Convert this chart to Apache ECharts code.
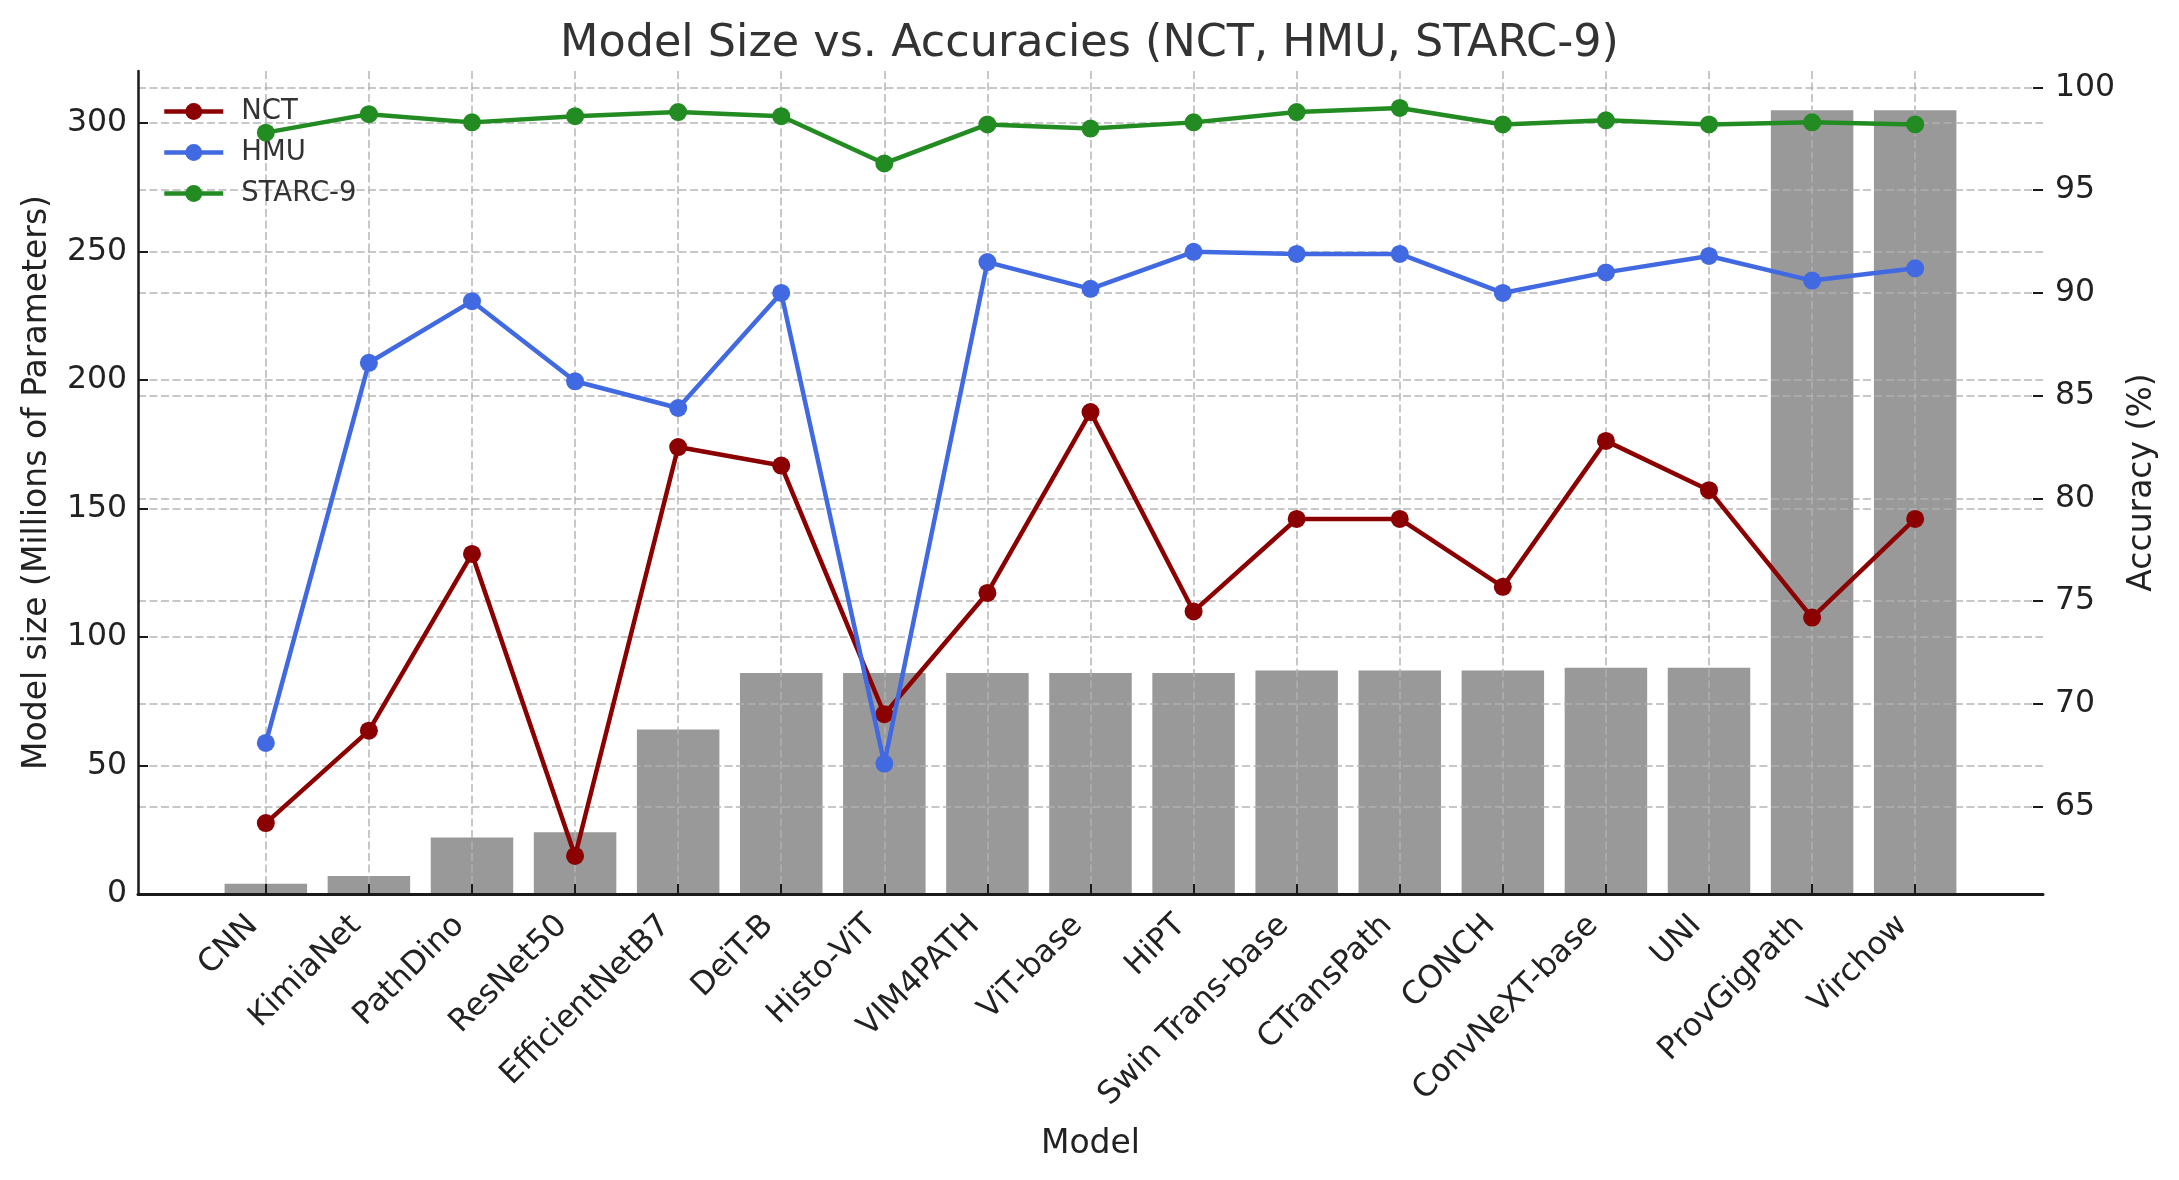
<!DOCTYPE html>
<html>
<head>
<meta charset="utf-8">
<script src="https://cdn.jsdelivr.net/npm/echarts@6/dist/echarts.min.js"></script>
<style>
html,body{margin:0;padding:0;background:#fff;}
#chart{width:2179px;height:1180px;}
</style>
</head>
<body>
<div id="chart"></div>
<script>
const categories = ["CNN","KimiaNet","PathDino","ResNet50","EfficientNetB7","DeiT-B","Histo-ViT","VIM4PATH","ViT-base","HiPT","Swin Trans-base","CTransPath","CONCH","ConvNeXT-base","UNI","ProvGigPath","Virchow"];
const modelSize = [4, 7, 22, 24, 64, 86, 86, 86, 86, 86, 87, 87, 87, 88, 88, 305, 305];
const nctAcc = [64.2, 68.7, 77.3, 62.6, 82.5, 81.6, 69.5, 75.4, 84.2, 74.5, 79.0, 79.0, 75.7, 82.8, 80.4, 74.2, 79.0];
const hmuAcc = [68.1, 86.6, 89.6, 85.7, 84.4, 90.0, 67.1, 91.5, 90.2, 92.0, 91.9, 91.9, 90.0, 91.0, 91.8, 90.6, 91.2];
const starcAcc = [97.8, 98.7, 98.3, 98.6, 98.8, 98.6, 96.3, 98.2, 98.0, 98.3, 98.8, 99.0, 98.2, 98.4, 98.2, 98.3, 98.2];
const sizeTicks = [0, 50, 100, 150, 200, 250, 300];
const accTicks = [65, 70, 75, 80, 85, 90, 95, 100];

const FONT = 'DejaVu Sans';
const idx = categories.map((c, i) => i);
const pair = arr => arr.map((v, i) => [i, v]);
const gridLine = {show: true, lineStyle: {color: 'rgba(176,176,176,0.7)', width: 2, type: [8, 3.5]}};

const chart = echarts.init(document.getElementById('chart'), null, {renderer: 'canvas'});
chart.setOption({
  animation: false,
  backgroundColor: '#ffffff',
  title: {
    text: 'Model Size vs. Accuracies (NCT, HMU, STARC-9)',
    left: 'center', top: 17,
    textStyle: {fontFamily: FONT, fontSize: 44.5, fontWeight: 'normal', color: '#333333'}
  },
  legend: {
    orient: 'vertical', left: 157, top: 91,
    itemWidth: 59, itemHeight: 21, itemGap: 10,
    lineStyle: {width: 4.5},
    textStyle: {fontFamily: FONT, fontSize: 27.5, color: '#333333', lineHeight: 31, padding: [0, 0, 0, 13]},
    data: ['NCT', 'HMU', 'STARC-9']
  },
  grid: {left: 138, right: 136, top: 71, bottom: 286, containLabel: false},
  xAxis: {
    type: 'value', min: -1.24, max: 17.24,
    name: 'Model', nameLocation: 'middle', nameGap: 234,
    nameTextStyle: {fontFamily: FONT, fontSize: 33, color: '#222222'},
    axisLine: {show: true, onZero: false, lineStyle: {color: '#1a1a1a', width: 3}},
    axisTick: {show: true, inside: true, length: 10, lineStyle: {color: '#1a1a1a', width: 2}, customValues: idx},
    axisLabel: {
      customValues: idx, rotate: 45, margin: 14, padding: [0, 18, 0, 0],
      fontFamily: FONT, fontSize: 31.5, color: '#222222',
      formatter: v => categories[Math.round(v)]
    },
    splitLine: gridLine
  },
  yAxis: [
    {
      type: 'value', position: 'left', min: 0, max: 320.25,
      name: 'Model size (Millions of Parameters)', nameLocation: 'middle', nameGap: 84, nameRotate: 90,
      nameTextStyle: {fontFamily: FONT, fontSize: 33, color: '#222222'},
      axisLine: {show: true, onZero: false, lineStyle: {color: '#1a1a1a', width: 2.5}},
      axisTick: {show: true, inside: true, length: 10, lineStyle: {color: '#1a1a1a', width: 2}, customValues: sizeTicks},
      axisLabel: {customValues: sizeTicks, margin: 11, fontFamily: FONT, fontSize: 31.5, color: '#222222'},
      splitLine: gridLine
    },
    {
      type: 'value', position: 'right', min: 60.75, max: 100.8,
      name: 'Accuracy (%)', nameLocation: 'middle', nameGap: 82, nameRotate: 90,
      nameTextStyle: {fontFamily: FONT, fontSize: 33, color: '#222222'},
      axisLine: {show: false, onZero: false},
      axisTick: {show: true, inside: true, length: 10, lineStyle: {color: '#1a1a1a', width: 2}, customValues: accTicks},
      axisLabel: {customValues: accTicks, margin: 12, fontFamily: FONT, fontSize: 31.5, color: '#222222'},
      splitLine: gridLine
    }
  ],
  series: [
    {
      name: 'Model Size', type: 'bar', xAxisIndex: 0, yAxisIndex: 0, z: -1,
      barWidth: 82.5, itemStyle: {color: '#999999'},
      data: pair(modelSize)
    },
    {
      name: 'NCT', type: 'line', yAxisIndex: 1, z: 3,
      symbol: 'circle', symbolSize: 18,
      lineStyle: {color: '#8b0000', width: 4.5}, itemStyle: {color: '#8b0000'},
      data: pair(nctAcc)
    },
    {
      name: 'HMU', type: 'line', yAxisIndex: 1, z: 4,
      symbol: 'circle', symbolSize: 18,
      lineStyle: {color: '#4169e1', width: 4.5}, itemStyle: {color: '#4169e1'},
      data: pair(hmuAcc)
    },
    {
      name: 'STARC-9', type: 'line', yAxisIndex: 1, z: 5,
      symbol: 'circle', symbolSize: 18,
      lineStyle: {color: '#228b22', width: 4.5}, itemStyle: {color: '#228b22'},
      data: pair(starcAcc)
    }
  ]
});
</script>
</body>
</html>
